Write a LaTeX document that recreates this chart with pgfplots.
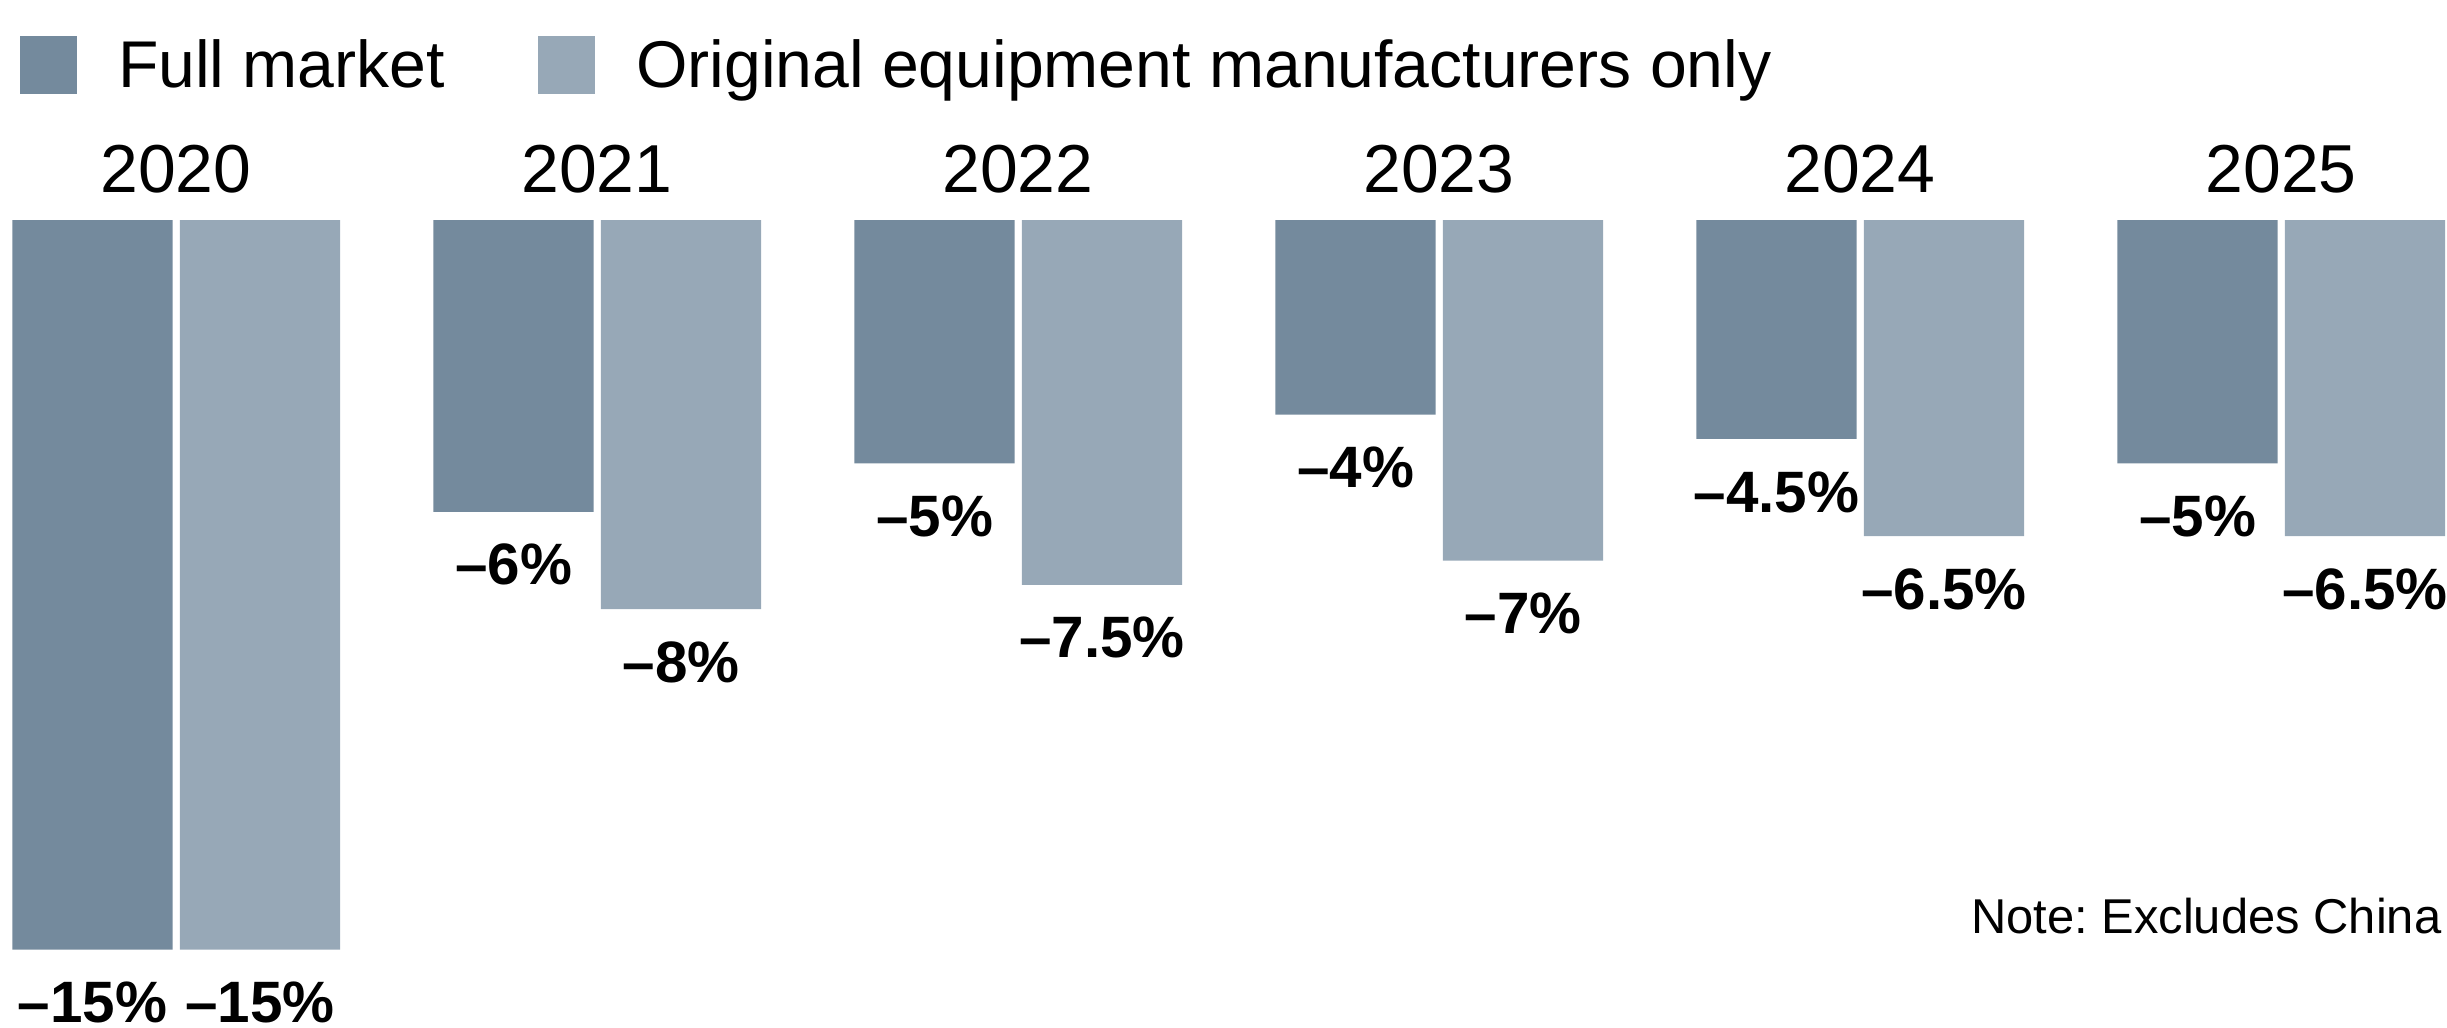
\documentclass[border=0pt]{standalone}
\usepackage{pgfplots}
\pgfplotsset{compat=1.18}
\usepackage{fontspec}
\setmainfont{Liberation Sans}
\frenchspacing
\definecolor{darkbar}{HTML}{748A9D}
\definecolor{lightbar}{HTML}{97A8B7}
\begin{document}
\begin{tikzpicture}
\begin{axis}[
  name=ax,
  x=0.01cm, y=0.486cm,
  xmin=0, xmax=2447, ymin=-16.605, ymax=4.527,
  hide axis,
  clip=false,
  ybar, bar width=1.6cm, bar shift=0pt,
  point meta=explicit symbolic,
  nodes near coords,
  every node near coord/.append style={font=\fontsize{16.6}{20}\selectfont\bfseries, anchor=base, yshift=-0.73cm, inner sep=0pt},
  legend columns=2,
  legend image code/.code={\fill[#1] (0cm,-0.07cm) rectangle (0.57cm,0.51cm); \path (0.98cm,0);},
  legend style={draw=none, fill=none, inner sep=0pt, outer sep=0pt, column sep=0pt,
    nodes={inner sep=0pt, anchor=base west},
    /tikz/every even column/.append style={column sep=0.93cm},
    font=\fontsize{18.8}{22}\selectfont,
    at={(axis cs:20,3.786)}, anchor=north west},
]
\addplot[fill=darkbar, draw=none] coordinates {
  (92.5,-15) [–15\%]
  (513.5,-6) [–6\%]
  (934.5,-5) [–5\%]
  (1355.5,-4) [–4\%]
  (1776.5,-4.5) [–4.5\%]
  (2197.5,-5) [–5\%]
};
\addlegendentry{Full market}
\addplot[fill=lightbar, draw=none] coordinates {
  (260,-15) [–15\%]
  (681,-8) [–8\%]
  (1102,-7.5) [–7.5\%]
  (1523,-7) [–7\%]
  (1944,-6.5) [–6.5\%]
  (2365,-6.5) [–6.5\%]
};
\addlegendentry{Original equipment manufacturers only}
\begin{scope}[every node/.style={font=\fontsize{19.3}{22}\selectfont, anchor=base, inner sep=0pt}]
\node at (axis cs:176,0.576) {2020};
\node at (axis cs:597,0.576) {2021};
\node at (axis cs:1018,0.576) {2022};
\node at (axis cs:1439,0.576) {2023};
\node at (axis cs:1860,0.576) {2024};
\node at (axis cs:2281,0.576) {2025};
\end{scope}
\node[font=\fontsize{13.9}{16}\selectfont, anchor=base east, inner sep=0pt] at (axis cs:2442,-14.67) {Note: Excludes China};
\end{axis}
\pgfresetboundingbox
\path (ax.south west) rectangle (ax.north east);
\end{tikzpicture}
\end{document}
